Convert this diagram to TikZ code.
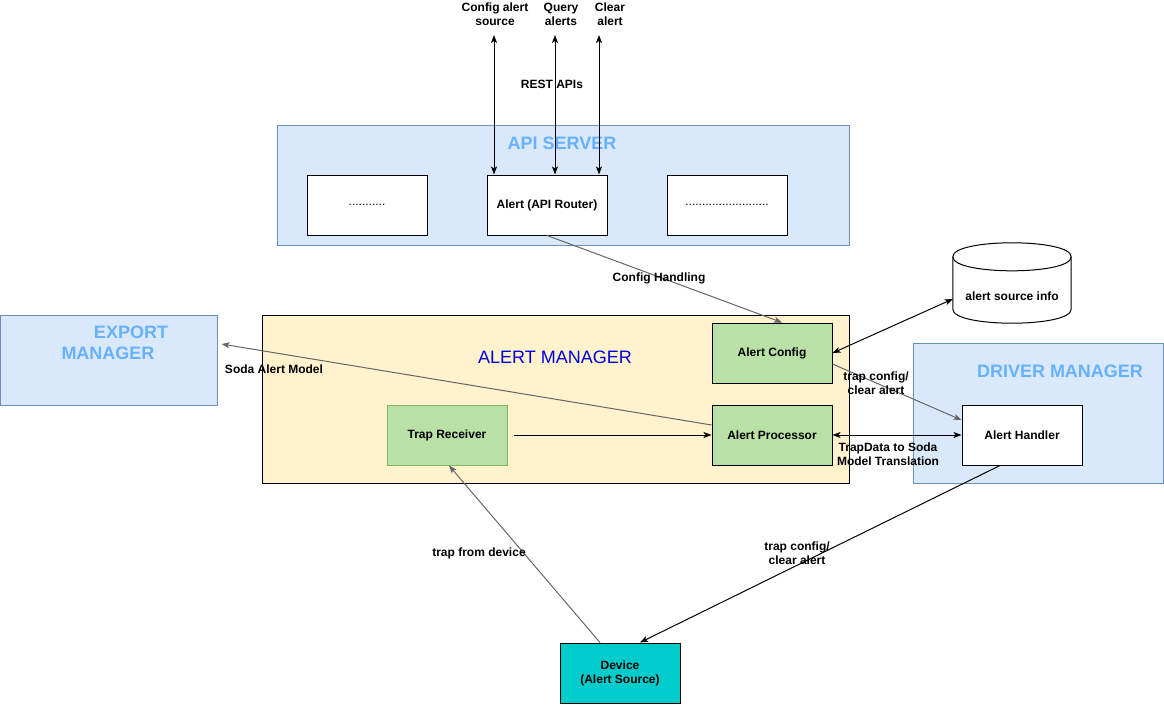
\documentclass[tikz,border=0pt]{standalone}
\usepackage{fontspec}
\setmainfont{Liberation Sans}
\usetikzlibrary{arrows.meta,positioning}

\definecolor{framefill}{HTML}{DAE8FC}
\definecolor{frameline}{HTML}{6C8EBF}
\definecolor{frametitle}{HTML}{66B2FF}
\definecolor{managerfill}{HTML}{FFF2CC}
\definecolor{managertitle}{HTML}{0000DD}
\definecolor{modulefill}{HTML}{B9E0A5}
\definecolor{moduleline}{HTML}{82B366}
\definecolor{devicefill}{HTML}{00CCCC}
\definecolor{linkgray}{HTML}{666666}

\tikzset{
  lbl/.style={font=\fontsize{12}{14}\selectfont\bfseries, align=center, inner sep=0pt},
  frame/.style={draw=frameline, fill=framefill, line width=1pt, inner sep=0pt},
  frametext/.style={font=\fontsize{18}{21}\selectfont\bfseries, text=frametitle, inner sep=0pt},
  comp/.style={draw, line width=1pt, minimum width=120pt, minimum height=60pt, inner sep=0pt,
    font=\fontsize{12}{14}\selectfont\bfseries, align=center},
  link/.style={line width=1pt, -{Stealth[length=8pt,width=6pt,inset=2pt]}},
  bilink/.style={line width=1pt, {Stealth[length=8pt,width=6pt,inset=2pt]}-{Stealth[length=8pt,width=6pt,inset=2pt]}},
}

\begin{document}
\begin{tikzpicture}[x=1pt, y=-1pt]
    \useasboundingbox (0,0) rectangle (1164,704);

    % API server
    \node[frame, minimum width=572pt, minimum height=120pt] (apiserver) at (563,185) {};
    \node[frametext] (apititle) at (562,143) {API SERVER};
    \node[comp, fill=white] (otherapi) at (367,205) {\mdseries...........};
    \node[comp, fill=white] (router) at (547,205) {Alert (API Router)};
    \node[comp, fill=white] (moreapi) at (727,205) {\mdseries.........................};

    % REST ends
    \coordinate (cfgend) at (494,35);
    \coordinate (queryend) at (555,35);
    \coordinate (clearend) at (599,35);
    \node[lbl] (cfglbl) at (495,14) {Config alert\\source};
    \node[lbl] (querylbl) at (561,14) {Query\\alerts};
    \node[lbl] (clearlbl) at (610,14) {Clear\\alert};
    \node[lbl] (restlbl) at (552,84) {REST APIs};
    \draw[bilink] (cfgend) -- ([xshift=-53pt]router.north);
    \draw[bilink] (queryend) -- ([xshift=8pt]router.north);
    \draw[bilink] (clearend) -- ([xshift=52pt]router.north);

    % Export manager
    \node[frame, minimum width=217pt, minimum height=90pt] (export) at (108.5,360) {};
    \node[frametext] (exporttitle) at (131,332) {EXPORT};
    \node[frametext] (exporttitleb) at (108,353) {MANAGER};

    % Driver manager
    \node[frame, minimum width=250pt, minimum height=140pt] (driver) at (1038,413) {};
    \node[frametext] (drivertitle) at (1060,371) {DRIVER MANAGER};
    \node[comp, fill=white] (handler) at (1022,435) {Alert Handler};

    % Alert manager
    \node[draw, fill=managerfill, line width=1pt, minimum width=587pt, minimum height=168pt, inner sep=0pt] (manager) at (555.5,399) {};
    \node[font=\fontsize{18}{21}\selectfont, text=managertitle, inner sep=0pt] (managertitle) at (555,357) {ALERT MANAGER};
    \node[comp, fill=modulefill] (config) at (772,353) {Alert Config};
    \node[comp, fill=modulefill] (processor) at (772,435) {Alert Processor};
    \node[comp, fill=modulefill, draw=moduleline] (trap) at (447,435) {Trap Receiver};

    % Store (cylinder drawn round the node)
    \node[minimum width=118pt, minimum height=80pt, inner sep=0pt] (store) at (1012,283) {};
    \draw[line width=1pt, fill=white]
      ([yshift=-14pt]store.north west) -- ([yshift=14pt]store.south west)
      .. controls ([yshift=-4.67pt]store.south west) and ([yshift=-4.67pt]store.south east) .. ([yshift=14pt]store.south east)
      -- ([yshift=-14pt]store.north east)
      .. controls ([yshift=4.67pt]store.north east) and ([yshift=4.67pt]store.north west) .. ([yshift=-14pt]store.north west)
      -- cycle;
    \draw[line width=1pt]
      ([yshift=-14pt]store.north west)
      .. controls ([yshift=-32.67pt]store.north west) and ([yshift=-32.67pt]store.north east) .. ([yshift=-14pt]store.north east);
    \node[lbl] (storelbl) at (1012,296) {alert source info};

    % Device
    \node[comp, fill=devicefill] (device) at (620,673) {Device\\(Alert Source)};

    % Connectors
    \draw[link, linkgray] (router.south) -- ([xshift=10pt]config.north);
    \node[lbl] (cfghandling) at (659,278) {Config Handling};
    \draw[bilink] (config.east) -- ([yshift=-16pt]store.west);
    \draw[link, linkgray] ([yshift=-11pt]config.east) -- ([yshift=15pt]handler.west);
    \node[lbl] (trapcfglbl) at (876,383) {trap config/\\clear alert};
    \draw[bilink] (processor.east) -- (handler.west);
    \node[lbl] (translbl) at (888,454) {TrapData to Soda\\Model Translation};
    \draw[link, linkgray] ([yshift=10pt]processor.west) -- ([xshift=4pt,yshift=16pt]export.east);
    \node[lbl] (sodalbl) at (274,369) {Soda Alert Model};
    \draw[link] ([xshift=6pt]trap.east) -- (processor.west);
    \draw[link, linkgray] ([xshift=-20pt]device.north) -- ([xshift=2pt]trap.south);
    \node[lbl] (trapdevlbl) at (479,553) {trap from device};
    \draw[link] ([xshift=-22pt]handler.south) -- ([xshift=20pt]device.north);
    \node[lbl] (devcfglbl) at (797,553) {trap config/\\clear alert};
\end{tikzpicture}
\end{document}
